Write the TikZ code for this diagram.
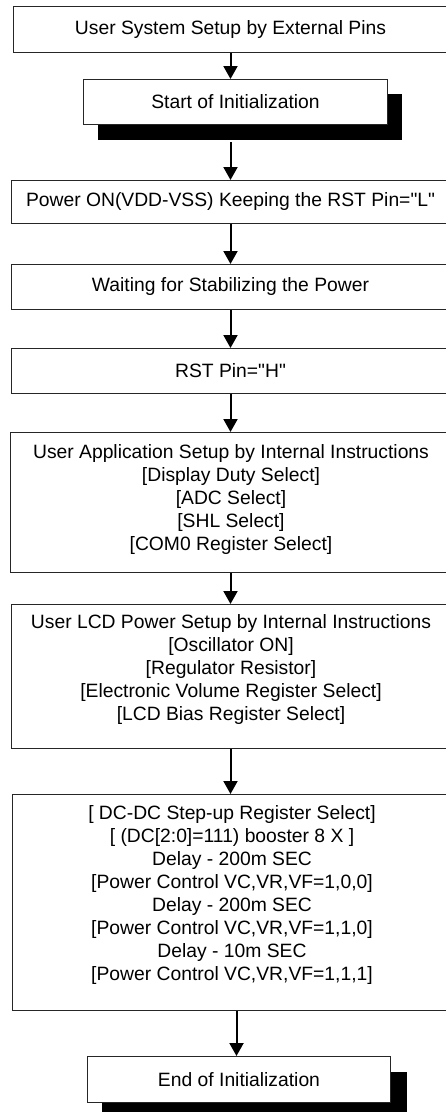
\documentclass[tikz,border=0pt]{standalone}
\usepackage{fontspec}
\setmainfont{Liberation Sans}
\usetikzlibrary{arrows.meta}
\begin{document}
\begin{tikzpicture}[x=1pt,y=-1pt,
  box/.style={draw=black!85, line width=1pt, fill=white, rectangle, inner sep=0pt, anchor=north west,
    font=\fontsize{19.3}{23}\selectfont, align=center},
  shadowbox/.style={fill=black, draw=none, rectangle, inner sep=0pt, anchor=north west},
  txt/.style={font=\fontsize{19.3}{23}\selectfont, align=center, inner sep=0pt},
  arr/.style={line width=2pt, -{Triangle[width=14pt,length=13pt]}}]
\useasboundingbox (0,0) rectangle (446,1112);
\clip (0,0) rectangle (446,1112);
\node[box, minimum width=434pt, minimum height=46pt] (b1) at (13,6) {User System Setup by External Pins};
\node[shadowbox, minimum width=304pt, minimum height=46pt] (s2) at (98,94) {};
\node[box, minimum width=304pt, minimum height=45pt] (b2) at (83,79) {Start of Initialization};
\node[box, minimum width=438pt, minimum height=43pt] (b3) at (11,180) {Power ON(VDD-VSS) Keeping the RST Pin=\textquotedbl L\textquotedbl};
\node[box, minimum width=438pt, minimum height=45pt] (b4) at (11,264) {Waiting for Stabilizing the Power};
\node[box, minimum width=438pt, minimum height=45pt] (b5) at (11,348) {RST Pin=\textquotedbl H\textquotedbl};
\node[box, minimum width=440pt, minimum height=140pt] (b6) at (10,432) {};
\node[txt] (t6) at (231,499.5) {User Application Setup by Internal Instructions\\{}[Display Duty Select]\\{}[ADC Select]\\{}[SHL Select]\\{}[COM0 Register Select]};
\node[box, minimum width=438pt, minimum height=144pt] (b7) at (11,604) {};
\node[txt] (t7) at (231,669.5) {User LCD Power Setup by Internal Instructions\\{}[Oscillator ON]\\{}[Regulator Resistor]\\{}[Electronic Volume Register Select]\\{}[LCD Bias Register Select]};
\node[box, minimum width=436pt, minimum height=216pt] (b8) at (12,794) {};
\node[txt] (t8) at (232,895) {{}[ DC-DC Step-up Register Select]\\{}[ (DC[2:0]=111) booster 8 X ]\\Delay - 200m SEC\\{}[Power Control VC,VR,VF=1,0,0]\\Delay - 200m SEC\\{}[Power Control VC,VR,VF=1,1,0]\\Delay - 10m SEC\\{}[Power Control VC,VR,VF=1,1,1]};
\node[shadowbox, minimum width=305pt, minimum height=46pt] (s9) at (102,1072) {};
\node[box, minimum width=303pt, minimum height=46pt] (b9) at (87,1056) {End of Initialization};
\draw[arr] (b1.south) -- (b1.south |- b2.north);
\draw[arr, shorten <=2pt] (b3.north |- s2.south) -- (b3.north);
\draw[arr] (b3.south) -- (b4.north);
\draw[arr] (b4.south) -- (b5.north);
\draw[arr] (b5.south) -- (b6.north);
\draw[arr] (b6.south) -- (b7.north);
\draw[arr] (b7.south) -- (b8.north);
\draw[arr] ([xshift=-2.5pt]b9.north |- b8.south) -- ([xshift=-2.5pt]b9.north);
\end{tikzpicture}
\end{document}
